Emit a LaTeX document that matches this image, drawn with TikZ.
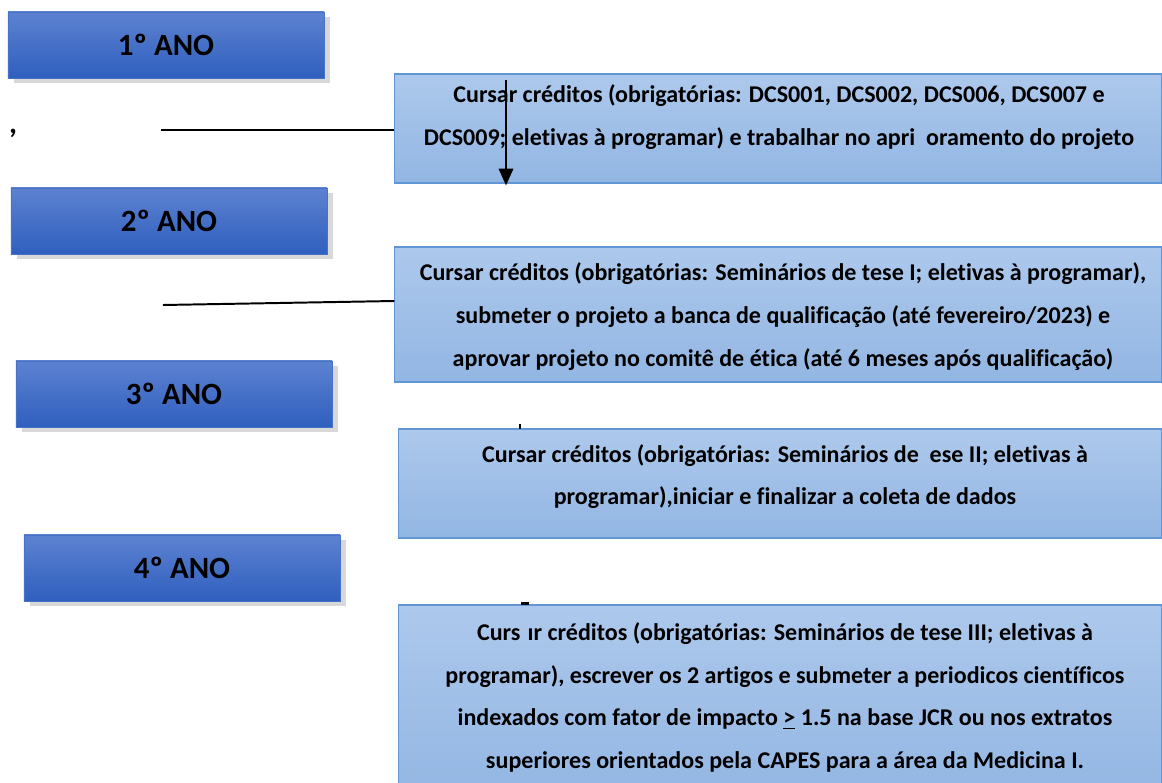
\documentclass[tikz,border=0pt]{standalone}
\usepackage{fontspec}
\setmainfont{Carlito}[BoldFont={Carlito Bold}, Ligatures=NoCommon]
\usetikzlibrary{arrows.meta,calc,shadows}

\definecolor{anotop}{RGB}{93,130,209}
\definecolor{anobot}{RGB}{47,95,190}
\definecolor{anoline}{RGB}{70,115,200}
\definecolor{anoshadow}{RGB}{216,216,216}
\definecolor{tasktop}{RGB}{173,200,236}
\definecolor{taskbot}{RGB}{146,182,227}
\definecolor{taskline}{RGB}{96,150,214}

\tikzset{
  anobox/.style={draw=anoline, line width=0.6pt, top color=anotop, bottom color=anobot,
    minimum width=7.9cm, minimum height=1.65cm, inner sep=0pt,
    font=\fontsize{22}{26}\selectfont\bfseries,
    drop shadow={shadow xshift=4.2pt, shadow yshift=-3.6pt, fill=anoshadow, opacity=1}},
  taskbox/.style={draw=taskline, line width=0.8pt, top color=tasktop, bottom color=taskbot,
    inner sep=0pt},
  tasktext/.style={align=center, inner sep=0pt, font=\fontsize{17.1}{30.4}\selectfont\bfseries},
  link/.style={line width=1.4pt}
}

\begin{document}
\begin{tikzpicture}[x=0.025cm, y=-0.025cm]
    \clip (0,0) rectangle (1162,782);
    \fill[white] (0,0) rectangle (1162,782);

    % Year boxes
    \node[anobox] (ano1) at (166,45)  {1º ANO};
    \node[anobox] (ano2) at (169,221) {2º ANO};
    \node[anobox] (ano3) at (174,394) {3º ANO};
    \node[anobox] (ano4) at (182,568) {4º ANO};

    % Task boxes
    \node[taskbox, minimum width=19.15cm, minimum height=2.725cm] (task1) at (778,128.5) {};
    \node[taskbox, minimum width=19.15cm, minimum height=3.375cm] (task2) at (778,314.5) {};
    \node[taskbox, minimum width=19.05cm, minimum height=2.725cm] (task3) at (780,483.5) {};
    \node[taskbox, minimum width=19.05cm, minimum height=4.9cm]   (task4) at (780,703)   {};

    % Task texts
    \node[tasktext] (text1) at (779,117) {Cursar créditos (obrigatórias: DCS001, DCS002, DCS006, DCS007 e\\
        DCS009; eletivas à programar) e trabalhar no apri\hspace{0.45em}oramento do projeto};
    \node[tasktext] (text2) at (783,316.5) {Cursar créditos (obrigatórias: Seminários de tese I; eletivas à programar),\\
        submeter o projeto a banca de qualificação (até fevereiro/2023) e\\
        aprovar projeto no comitê de ética (até 6 meses após qualificação)};
    \node[tasktext] (text3) at (785,476.5) {Cursar créditos (obrigatórias: Seminários de\hspace{0.45em}ese II; eletivas à\\
        programar),iniciar e finalizar a coleta de dados};
    \node[tasktext] (text4) at (785,697.5) {Curs\hspace{0.3em}ır créditos (obrigatórias: Seminários de tese III; eletivas à\\
        programar), escrever os 2 artigos e submeter a periodicos científicos\\
        indexados com fator de impacto \underline{>} 1.5 na base JCR ou nos extratos\\
        superiores orientados pela CAPES para a área da Medicina I.};

    % Connectors
    \coordinate (from1) at (161,130);
    \coordinate (from2) at (163,305);
    \draw[link] (from1) -- (from1 -| task1.west);
    \draw[link] (from2) -- ($(task2.west)+(0,-13.5)$);

    % Arrow over the first task
    \coordinate (arrtop) at (506,80);
    \draw[line width=2.1pt, -{Triangle[width=10pt,length=12pt]}] (arrtop) -- ($(arrtop |- task1.south)+(0,2)$);

    % Stray marks
    \node[font=\fontsize{22}{26}\selectfont\bfseries] (comma) at (13,133) {,};
    \draw[line width=2pt] (520,424) -- (520,429);
    \draw[line width=2pt] (521,603.5) -- (529,603.5);
\end{tikzpicture}
\end{document}
